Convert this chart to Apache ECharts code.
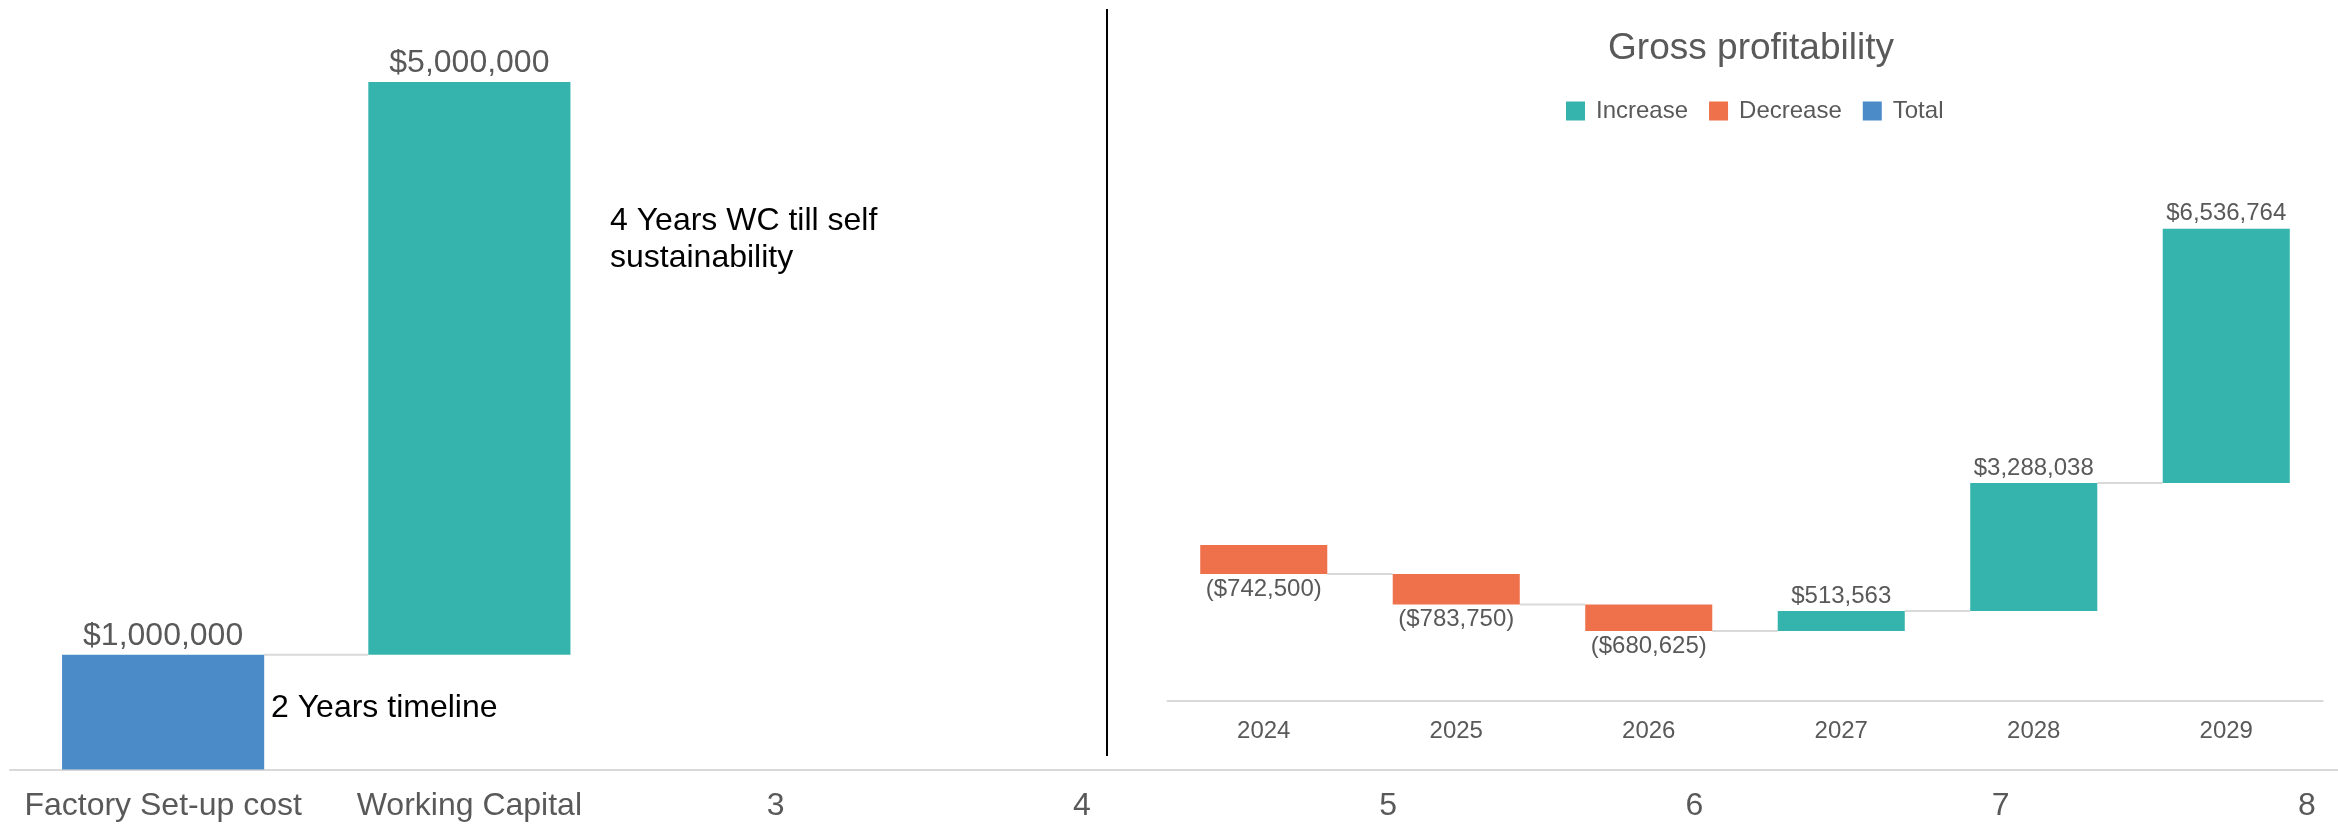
<!DOCTYPE html>
<html>
<head>
<meta charset="utf-8">
<script src="https://cdn.jsdelivr.net/npm/echarts@6/dist/echarts.min.js"></script>
<style>
html,body{margin:0;padding:0;background:#fff;}
#chart{width:2338px;height:829px;}
</style>
</head>
<body>
<div id="chart"></div>
<script>
// ---- data ----
const leftCategories = ["Factory Set-up cost", "Working Capital", "3", "4", "5", "6", "7", "8"];
const leftValues = [1000000, 5000000];
const leftTypes = ["total", "increase"];
const rightTitle = "Gross profitability";
const rightCategories = ["2024", "2025", "2026", "2027", "2028", "2029"];
const rightDeltas = [-742500, -783750, -680625, 513563, 3288038, 6536764];
const legendNames = ["Increase", "Decrease", "Total"];
const noteWC = "4 Years WC till self\nsustainability";
const noteSetup = "2 Years timeline";

// ---- styles ----
const COLORS = { increase: "#34B4AC", decrease: "#EE714B", total: "#4A8BC8" };
const GRAY = "#595959";
const LINE = "#D9D9D9";
const FONT = "Liberation Sans, Arial, sans-serif";

function money(v) {
  const s = "$" + Math.abs(v).toLocaleString("en-US");
  return v < 0 ? "(" + s + ")" : s;
}

// waterfall helpers
function buildWaterfall(deltas, types) {
  let cum = 0;
  const base = [], vis = [], ends = [];
  deltas.forEach((d, i) => {
    const t = types ? types[i] : (d >= 0 ? "increase" : "decrease");
    let lo, hi;
    if (t === "total") { lo = 0; hi = d; cum = d; }
    else { const prev = cum; cum = prev + d; lo = Math.min(prev, cum); hi = Math.max(prev, cum); }
    base.push(lo);
    vis.push({
      value: hi - lo,
      itemStyle: { color: COLORS[t] },
      label: { position: t === "decrease" ? "bottom" : "top" },
      delta: d
    });
    ends.push(cum);
  });
  return { base, vis, ends };
}

const L = buildWaterfall(leftValues, leftTypes);
const R = buildWaterfall(rightDeltas, null);

function connectorSeries(name, xi, yi, ends) {
  const data = ends.slice(0, ends.length - 1).map((v, i) => [i, v]);
  return {
    name, type: "custom", xAxisIndex: xi, yAxisIndex: yi, silent: true, z: 1,
    data,
    renderItem: function (params, api) {
      const i = api.value(0), v = api.value(1);
      const p = api.coord([i, v]);
      const catW = api.size([1, 0])[0];
      const barW = catW * 0.66;
      return {
        type: "line",
        shape: { x1: p[0] + barW / 2, y1: p[1], x2: p[0] + catW - barW / 2, y2: p[1] },
        style: { stroke: LINE, lineWidth: 2 }
      };
    }
  };
}

const chart = echarts.init(document.getElementById("chart"), null, { renderer: "canvas" });

const option = {
  animation: false,
  backgroundColor: "#fff",
  textStyle: { fontFamily: FONT },
  title: {
    text: rightTitle,
    left: 1746, top: 25, textAlign: "center",
    textStyle: { fontFamily: FONT, fontSize: 37, fontWeight: "normal", color: GRAY }
  },
  legend: {
    data: legendNames,
    left: 1561, top: 94,
    icon: "rect", itemWidth: 19, itemHeight: 19, itemGap: 21,
    textStyle: { fontFamily: FONT, fontSize: 24, color: GRAY, padding: [0, 0, 0, 6] },
    selectedMode: false
  },
  grid: [
    { left: 10, width: 2450, top: 82, height: 687.4, outerBoundsMode: "none", containLabel: false },
    { left: 1167.5, width: 1155, top: 156, height: 544.7, outerBoundsMode: "none", containLabel: false }
  ],
  xAxis: [
    {
      type: "category", gridIndex: 0, data: leftCategories,
      axisLine: { onZero: false, lineStyle: { color: LINE, width: 2 } },
      axisTick: { show: false },
      axisLabel: { interval: 0, margin: 21, fontFamily: FONT, fontSize: 32, color: GRAY }
    },
    {
      type: "category", gridIndex: 1, data: rightCategories,
      axisLine: { onZero: false, lineStyle: { color: LINE, width: 2 } },
      axisTick: { show: false },
      axisLabel: { interval: 0, margin: 19, fontFamily: FONT, fontSize: 24, color: GRAY }
    }
  ],
  yAxis: [
    { type: "value", gridIndex: 0, min: 0, max: 6000000, show: false, splitLine: { show: false } },
    { type: "value", gridIndex: 1, min: -4000000, max: 10000000, show: false, splitLine: { show: false } }
  ],
  graphic: [
    {
      type: "line", z: 10,
      shape: { x1: 1107, y1: 9, x2: 1107, y2: 756 },
      style: { stroke: "#000", lineWidth: 2 }
    },
    {
      type: "text", left: 610, top: 203, z: 10,
      style: { text: noteWC, font: "32px " + FONT, fill: "#000", lineHeight: 37 }
    },
    {
      type: "text", left: 271, top: 692, z: 10,
      style: { text: noteSetup, font: "32px " + FONT, fill: "#000" }
    }
  ],
  series: [
    // left waterfall
    {
      type: "bar", xAxisIndex: 0, yAxisIndex: 0, stack: "left", stackStrategy: "all",
      barCategoryGap: "34%", silent: true,
      itemStyle: { color: "transparent" },
      data: L.base
    },
    {
      type: "bar", xAxisIndex: 0, yAxisIndex: 0, stack: "left", stackStrategy: "all",
      barCategoryGap: "34%", z: 3,
      data: L.vis,
      label: {
        show: true, distance: 3, fontFamily: FONT, fontSize: 32, color: GRAY,
        formatter: p => money(p.data.delta)
      }
    },
    connectorSeries("leftConn", 0, 0, L.ends),
    // right waterfall
    {
      type: "bar", xAxisIndex: 1, yAxisIndex: 1, stack: "right", stackStrategy: "all",
      barCategoryGap: "34%", silent: true,
      itemStyle: { color: "transparent" },
      data: R.base
    },
    {
      type: "bar", xAxisIndex: 1, yAxisIndex: 1, stack: "right", stackStrategy: "all",
      barCategoryGap: "34%", z: 3,
      data: R.vis,
      label: {
        show: true, distance: 3, fontFamily: FONT, fontSize: 24, color: GRAY,
        formatter: p => money(p.data.delta)
      }
    },
    connectorSeries("rightConn", 1, 1, R.ends),
    // legend entries
    { name: legendNames[0], type: "line", xAxisIndex: 1, yAxisIndex: 1, data: [], itemStyle: { color: COLORS.increase } },
    { name: legendNames[1], type: "line", xAxisIndex: 1, yAxisIndex: 1, data: [], itemStyle: { color: COLORS.decrease } },
    { name: legendNames[2], type: "line", xAxisIndex: 1, yAxisIndex: 1, data: [], itemStyle: { color: COLORS.total } }
  ]
};

chart.setOption(option);
</script>
</body>
</html>
